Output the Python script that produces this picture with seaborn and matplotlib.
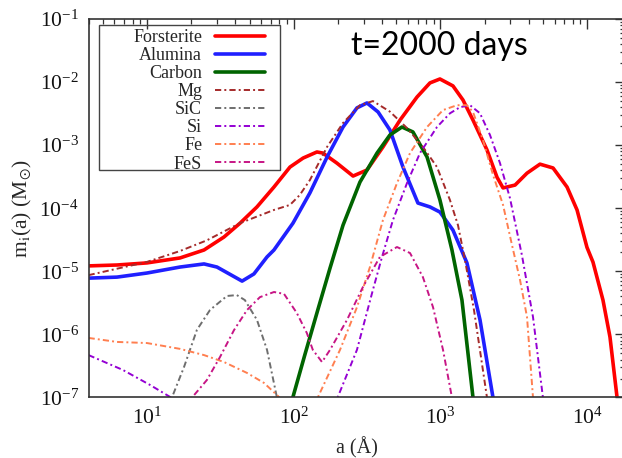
import numpy as np
import pandas as pd
import matplotlib
matplotlib.use("Agg")
import matplotlib.pyplot as plt
from matplotlib.patches import Rectangle
from matplotlib.ticker import LogLocator, NullFormatter
import seaborn as sns

# ---------------- data ----------------
forsterite_a = [4.0, 6.25, 10, 16.8, 24.5, 33.5, 43.1, 56.2, 73.4, 94.4, 116, 144, 158, 197, 254,
                316, 406, 531, 693, 849, 993, 1218, 1426, 1668, 2078, 2432, 2673, 3228, 3894,
                4773, 5860, 7300, 8540, 9980, 10970, 12830, 14320, 15990, 16800]
forsterite_m = [1.22e-5, 1.26e-5, 1.36e-5, 1.63e-5, 2.18e-5, 3.5e-5, 5.8e-5, 1.05e-4, 2.17e-4,
                4.5e-4, 6.25e-4, 7.8e-4, 7.5e-4, 5.2e-4, 3.24e-4, 4.04e-4, 9.35e-4, 2.5e-3,
                5.8e-3, 9.7e-3, 1.12e-2, 8.7e-3, 5.2e-3, 2.5e-3, 8.4e-4, 3.1e-4, 2.1e-4,
                2.33e-4, 3.6e-4, 5.0e-4, 4.35e-4, 2.17e-4, 9.4e-5, 2.4e-5, 1.4e-5, 3.5e-6,
                9.1e-7, 1.02e-7, 3e-8]

alumina_a = [4.0, 6.25, 10, 16.8, 24.5, 30.0, 44.5, 53.6, 65.8, 73.4, 98.9, 129, 169, 217, 270,
             316, 376, 453, 556, 703, 849, 993, 1218, 1517, 1862, 2283, 2400]
alumina_m = [7.8e-6, 8.1e-6, 9.4e-6, 1.17e-5, 1.31e-5, 1.17e-5, 7.0e-6, 9.1e-6, 1.69e-5, 2.18e-5,
             5.8e-5, 1.75e-4, 6.5e-4, 1.94e-3, 3.9e-3, 4.67e-3, 3.36e-3, 1.74e-3, 4.5e-4,
             1.21e-4, 1.05e-4, 8.7e-5, 4.5e-5, 1.36e-5, 1.7e-6, 1.0e-7, 4e-8]

carbon_a = [95, 98.9, 119, 146, 177, 217, 283, 370, 453, 547, 650, 811, 993, 1198, 1403, 1668, 1750]
carbon_m = [5e-8, 1.02e-7, 4.7e-7, 2.44e-6, 1.13e-5, 5.4e-5, 2.6e-4, 7.5e-4, 1.45e-3, 1.94e-3,
            1.62e-3, 6.5e-4, 1.35e-4, 2.2e-5, 3.5e-6, 1.0e-7, 4e-8]

mg_a = [4.0, 10, 16.8, 25.6, 43, 73.4, 94.4, 110, 129, 169, 217, 283, 347, 453, 592, 760, 948,
        1162, 1318, 1472, 1696, 2078, 2200]
mg_m = [8.7e-6, 1.41e-5, 2.1e-5, 3.1e-5, 5.8e-5, 9.4e-5, 1.13e-4, 1.62e-4, 2.8e-4, 9.4e-4,
        2.25e-3, 4.3e-3, 5.0e-3, 3.4e-3, 1.87e-3, 9.4e-4, 4.5e-4, 1.35e-4, 5.4e-5, 1.5e-5,
        2.4e-6, 1.0e-7, 4e-8]

sic_a = [14.0, 14.8, 17.9, 21.9, 26.9, 35.1, 41.0, 46.5, 56.2, 65.8, 76.9, 80]
sic_m = [4e-8, 1.0e-7, 3.05e-7, 1.18e-6, 2.44e-6, 4.07e-6, 4.2e-6, 3.5e-6, 1.7e-6, 5.7e-7,
         1.0e-7, 4e-8]

si_a = [4.0, 6.86, 10.5, 14.8, 54.5, 200, 270, 347, 400, 475, 592, 726, 948, 1162, 1361, 1592,
        1862, 2178, 2548, 2980, 3596, 4278, 5000, 5200]
si_m = [4.7e-7, 2.73e-7, 1.58e-7, 9.8e-8, 8e-9, 1.02e-7, 5.7e-7, 5.1e-6, 1.69e-5, 6.5e-5,
        2.5e-4, 7.5e-4, 1.94e-3, 3.2e-3, 4.0e-3, 4.3e-3, 3.2e-3, 1.45e-3, 5.2e-4, 1.45e-4,
        1.8e-5, 1.89e-6, 1.0e-7, 4e-8]

fe_a = [4.0, 6.25, 10, 16.8, 24.5, 33.5, 48.1, 62.8, 79.4, 107, 146, 207, 270, 331, 406, 506,
        621, 811, 1042, 1299, 1517, 1668, 1950, 2283, 2673, 3078, 3490, 3894, 4278, 4450]
fe_m = [8.8e-7, 7.6e-7, 7.3e-7, 5.9e-7, 4.7e-7, 3.65e-7, 2.45e-7, 1.7e-7, 1.02e-7, 4e-8, 1.0e-7,
        5.7e-7, 2.7e-6, 1.17e-5, 6.5e-5, 2.5e-4, 7.5e-4, 1.94e-3, 3.6e-3, 4.3e-3, 4.3e-3,
        3.36e-3, 1.21e-3, 3.4e-4, 1.13e-4, 2.6e-5, 7.3e-6, 1.89e-6, 1.0e-7, 4e-8]

fes_a = [19.0, 20.3, 25.6, 31.5, 39.2, 48.1, 58.9, 73.4, 85.9, 105, 123, 135, 156, 177, 231, 296,
         387, 506, 621, 760, 891, 1042, 1199, 1260]
fes_m = [4e-8, 1.0e-7, 1.89e-7, 4.4e-7, 1.17e-6, 2.44e-6, 3.9e-6, 4.7e-6, 4.4e-6, 2.19e-6,
         1.05e-6, 5.7e-7, 3.65e-7, 5.7e-7, 1.7e-6, 5.6e-6, 1.69e-5, 2.43e-5, 1.95e-5, 8.1e-6,
         2.7e-6, 5.7e-7, 1.0e-7, 4e-8]

series_names = ["Forsterite", "Alumina", "Carbon", "Mg", "SiC", "Si", "Fe", "FeS"]
series_a = [forsterite_a, alumina_a, carbon_a, mg_a, sic_a, si_a, fe_a, fes_a]
series_m = [forsterite_m, alumina_m, carbon_m, mg_m, sic_m, si_m, fe_m, fes_m]

x_ticks = [1e1, 1e2, 1e3, 1e4]
y_ticks = [1e-7, 1e-6, 1e-5, 1e-4, 1e-3, 1e-2, 1e-1]
title_text = "t=2000 days"
x_label = "a (Å)"
y_label = r"m$_{\rm i}$(a) (M$_{\odot}$)"

# ---------------- style ----------------
colors = {"Forsterite": "#ff0000", "Alumina": "#2020ff", "Carbon": "#006400",
          "Mg": "#a52a2a", "SiC": "#6e6e6e", "Si": "#9400d3", "Fe": "#ff7f50",
          "FeS": "#c71585"}
dashdot = (0, (3.2, 1.6, 1.0, 1.6))
styles = {n: ("-", 2.6) for n in ["Forsterite", "Alumina", "Carbon"]}
styles.update({n: (dashdot, 1.4) for n in ["Mg", "SiC", "Si", "Fe", "FeS"]})

sns.set_theme(style="white")
plt.rcParams["font.family"] = ["Liberation Serif", "DejaVu Serif"]
plt.rcParams["mathtext.fontset"] = "stix"

fig = plt.figure(figsize=(6.22, 4.58), dpi=100)
ax = fig.add_axes([0.1424, 0.1321, 0.8617, 0.8264])
ax.set_xscale("log")
ax.set_yscale("log")

for name, a_vals, m_vals in zip(series_names, series_a, series_m):
    df = pd.DataFrame({"a": a_vals, "m": m_vals})
    ls, lw = styles[name]
    sns.lineplot(data=df, x="a", y="m", ax=ax, color=colors[name], lw=lw, ls=ls,
                 sort=False, estimator=None, label=name)

ax.set_xlim(4, 1.8e4)
ax.set_ylim(1e-7, 1e-1)
ax.set_xticks(x_ticks)
ax.set_yticks(y_ticks)
ax.xaxis.set_minor_locator(LogLocator(base=10, subs=np.arange(2, 10), numticks=20))
ax.yaxis.set_minor_locator(LogLocator(base=10, subs=np.arange(2, 10), numticks=20))
ax.xaxis.set_minor_formatter(NullFormatter())
ax.yaxis.set_minor_formatter(NullFormatter())
ax.tick_params(which="both", direction="in", top=True, right=True, color="#333333",
               labelsize=15.5, labelcolor="#111111")
ax.tick_params(which="major", length=7, width=1.0, pad=7)
ax.tick_params(which="minor", length=3.5, width=0.9)
for s in ax.spines.values():
    s.set_color("#333333")
    s.set_linewidth(1.2)

ax.set_xlabel(x_label, fontsize=14.5, labelpad=6)
ax.set_ylabel(y_label, fontsize=15.5, labelpad=4)

# legend (right-aligned labels, samples on the right), wide box as in the reference
leg = ax.legend(loc="upper right", bbox_to_anchor=(0.340, 0.988), frameon=False,
                markerfirst=False, fontsize=13, handlelength=2.8, handletextpad=0.7,
                labelspacing=0.06, borderaxespad=0.0, borderpad=0.3)
ax.add_patch(Rectangle((0.0194, 0.601), 0.3376, 0.383, transform=ax.transAxes,
                       fill=False, ec="#444444", lw=1.0, zorder=5))

fig.text(0.707, 0.88, title_text, fontsize=23, family="Lato", ha="center",
         va="baseline", color="black")

fig.savefig("out.png", dpi=100)
